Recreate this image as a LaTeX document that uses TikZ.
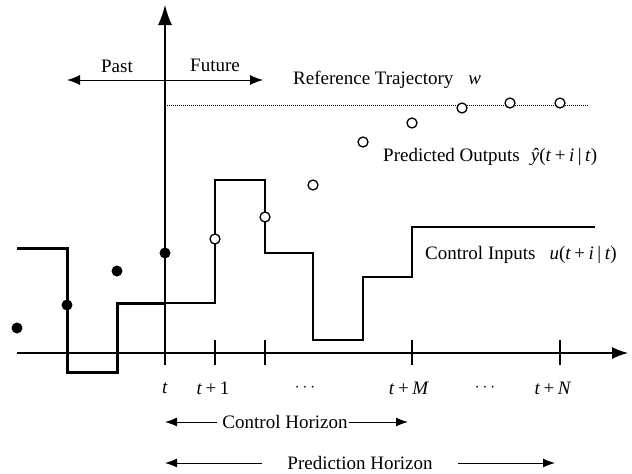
\documentclass[tikz,border=0pt]{standalone}
\usepackage{fontspec}
\setmainfont{Liberation Serif}
\usetikzlibrary{arrows.meta}
\newcommand{\mi}[1]{\textit{#1}}
\newcommand{\mgap}{\hspace{3.5pt}}
\begin{document}
\begin{tikzpicture}[x=1pt,y=-1pt,
  lbl/.style={font=\fontsize{19}{22}\selectfont, inner sep=0pt},
  axisline/.style={line width=1.3pt},
  thickstep/.style={line width=3pt},
  thinstep/.style={line width=1.2pt},
  harr/.style={line width=1pt,-{Latex[length=12pt,width=9pt]}},
  hollow/.style={circle,draw,fill=white,line width=1.3pt,minimum size=10pt,inner sep=0pt},
  filled/.style={circle,fill=black,minimum size=11pt,inner sep=0pt},
  tick/.style={line width=1.2pt}]
\useasboundingbox (0,0) rectangle (632,474);

% axes
\coordinate (ybot) at (165,365);
\coordinate (ytop) at (165,5);
\coordinate (xl) at (17,353);
\coordinate (xr) at (628,353);
\draw[axisline,-{Latex[length=16pt,width=12pt]}] (xl) -- (xr);
\draw[axisline,-{Latex[length=20pt,width=14pt]}] (ybot) -- (ytop);

% ticks
\foreach \x in {215,265,412,560} \draw[tick] (\x,340) -- (\x,365);

% past / future
\coordinate (pl) at (67,80);
\coordinate (pr) at (263,80);
\draw[line width=1pt,{Latex[length=13pt,width=10pt]}-{Latex[length=13pt,width=10pt]}] (pl) -- (pr);
\node[lbl] (past) at (117,66) {Past};
\node[lbl] (future) at (215,65) {Future};

% reference trajectory
\coordinate (rl) at (165,105);
\coordinate (rr) at (588,105);
\draw[line width=0.8pt,dash pattern=on 1pt off 1pt] (rl) -- (rr);
\node[lbl,anchor=west] (ref) at (293,80) {Reference Trajectory\hspace{15pt}\mi{w}};

% past input (thick)
\draw[thickstep] (17,248) -| (67,372) -| (117,303) -- (165,303);
% future input (thin)
\draw[thinstep] (165,303) -| (215,180) -| (265,253) -| (313,340) -| (363,277) -| (412,227) -- (595,227);

% past outputs
\foreach \p [count=\i] in {(17,328),(67,305),(117,271),(165,253)} \node[filled] (d\i) at \p {};
% predicted outputs
\foreach \p [count=\i] in {(215,239),(265,217),(313,185),(363,142),(412,123),(462,108),(510,103),(560,103)} \node[hollow] (o\i) at \p {};

\node[lbl,anchor=west] (pred) at (383,157) {Predicted Outputs\hspace{11pt}\mi{ŷ}(\mi{t}\mgap+\mgap\mi{i}\mgap|\mgap\mi{t})};
\node[lbl,anchor=west] (ctrl) at (425,255) {Control Inputs\hspace{14pt}\mi{u}(\mi{t}\mgap+\mgap\mi{i}\mgap|\mgap\mi{t})};

% time labels
\node[lbl] (t0) at (165,388) {\mi{t}};
\node[lbl] (t1) at (213,388) {\mi{t}\mgap+\mgap1};
\node[lbl] (td1) at (305,388) {$\cdots$};
\node[lbl] (tM) at (409,388) {\mi{t}\mgap+\mgap\mi{M}};
\node[lbl] (td2) at (485,388) {$\cdots$};
\node[lbl] (tN) at (553,388) {\mi{t}\mgap+\mgap\mi{N}};

% horizons
\node[lbl] (ch) at (285,422) {Control Horizon};
\coordinate (chL) at (165,422);
\coordinate (chR) at (408,422);
\draw[harr] ([xshift=-5pt]ch.west) -- (chL);
\draw[harr] ([xshift=1pt]ch.east) -- (chR);

\node[lbl] (ph) at (360,463) {Prediction Horizon};
\coordinate (phL) at (165,463);
\coordinate (phR) at (555,463);
\coordinate (phLs) at (262,463);
\coordinate (phRs) at (458,463);
\draw[harr] (phLs) -- (phL);
\draw[harr] (phRs) -- (phR);
\end{tikzpicture}
\end{document}
